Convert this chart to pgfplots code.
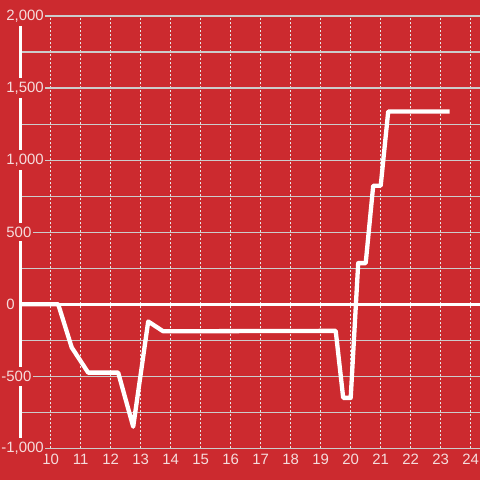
\documentclass[border=0pt]{standalone}
\usepackage{fontspec}
\setmainfont{Liberation Sans}
\usepackage{pgfplots}
\pgfplotsset{compat=1.18}
\definecolor{bgred}{HTML}{CC2A2F}
\definecolor{gridgray}{HTML}{CCCCCC}
\definecolor{dotcol}{HTML}{E6E6E6}
\definecolor{labcol}{HTML}{F5DCDC}

\begin{document}
\begin{tikzpicture}
\fill[bgred] (-20.7bp,-31.7bp) rectangle (459.3bp,448.3bp);
\begin{axis}[
  scale only axis, width=459.6bp, height=432.3bp,
  xmin=9, xmax=24.32, ymin=-1000, ymax=2000,
  axis x line=bottom, axis y line=left,
  x axis line style={draw=none},
  y axis line style={white, line width=3bp, -},
  major tick length=0pt, minor tick length=0pt,
  xtick={10,11,...,24},
  xticklabels={10,11,12,13,14,15,16,17,18,19,20,21,22,23,24},
  ytick={-1000,-500,0,500,1000,1500,2000},
  yticklabels={{\llap{-}1,000},{\llap{-}500},{0},{500},{1,000},{1,500},{2,000}},
  minor ytick={-750,-250,250,750,1250,1750},
  xmajorgrids, ymajorgrids, yminorgrids,
  x grid style={dotcol, line width=1bp, dash pattern=on 2bp off 2bp},
  y grid style={gridgray, line width=1.1bp},
  tick label style={font=\fontsize{15}{18}\selectfont, text=labcol},
  yticklabel style={anchor=west, inner xsep=1.5bp, inner ysep=4bp, fill=bgred, xshift=-16bp},
  xticklabel style={anchor=north, inner sep=0pt, yshift=-6bp},
]
\draw[white, line width=3.3bp] (axis cs:9,0) -- (axis cs:24.32,0);
\addplot[white, line width=4.3bp, line join=round] coordinates {
 (9,0) (10.25,0) (10.7,-300) (11.25,-475) (12.25,-475) (12.75,-850)
 (13.25,-120) (13.75,-188) (19.5,-185) (19.75,-650) (20,-650)
 (20.25,285) (20.5,285) (20.75,822) (21,822) (21.25,1337) (23.3,1337)};
\end{axis}
\pgfresetboundingbox
\path[use as bounding box] (-20.7bp,-31.7bp) rectangle (459.3bp,448.3bp);
\end{tikzpicture}
\end{document}
